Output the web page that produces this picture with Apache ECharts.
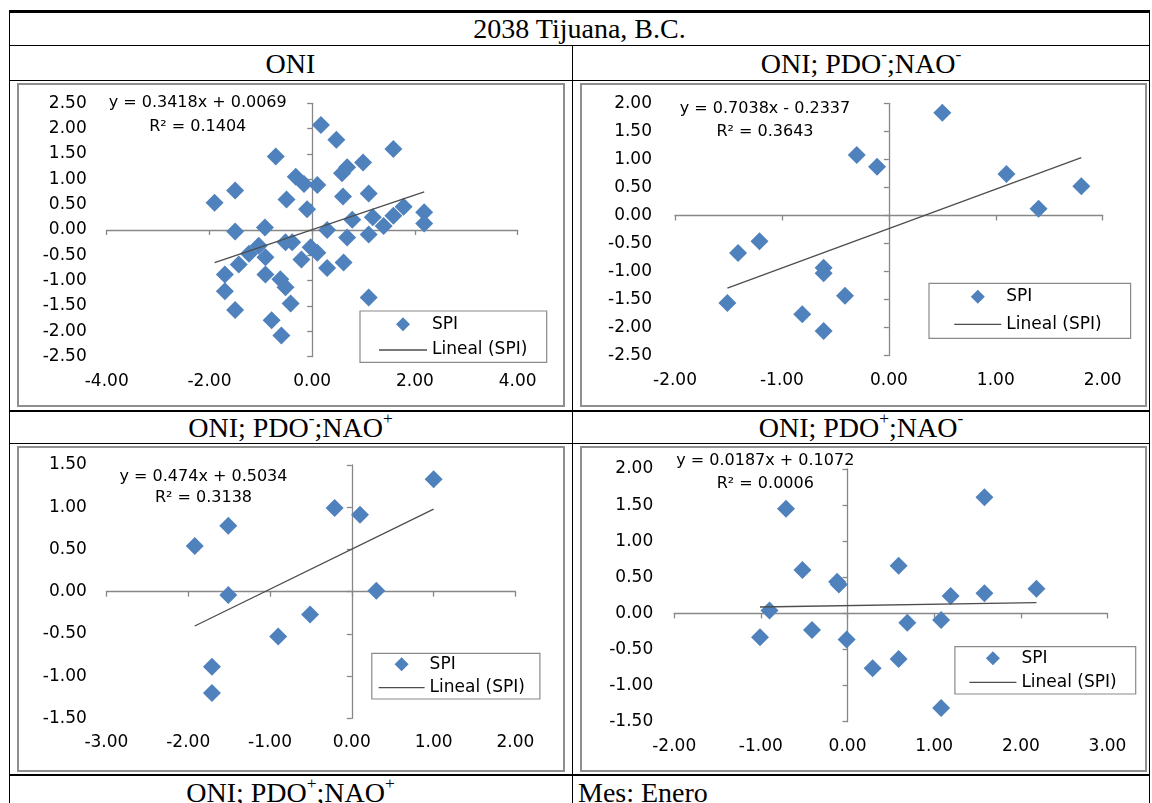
<!DOCTYPE html>
<html>
<head>
<meta charset="utf-8">
<script src="https://cdn.jsdelivr.net/npm/echarts@6/dist/echarts.min.js"></script>
<style>
  body { margin: 0; background: #fff; width: 1152px; height: 803px; overflow: hidden; position: relative; }
  .ln { position: absolute; background: #000; }
  .cell { position: absolute; font-family: "Liberation Serif", serif; font-size: 28px; color: #000;
          display: flex; align-items: center; justify-content: center; white-space: nowrap; }
  .cell sup { font-size: 62%; vertical-align: baseline; position: relative; top: -0.5em; line-height: 0; }
  .chart { position: absolute; }
  .frame { position: absolute; box-sizing: border-box; border: 2px solid #8f8f8f; pointer-events: none; }
</style>
</head>
<body>
<!-- tabla -->
<div class="ln" style="left:9px;top:10px;width:1141px;height:3px"></div>
<div class="ln" style="left:9px;top:45px;width:1141px;height:1px"></div>
<div class="ln" style="left:9px;top:80px;width:1141px;height:1px"></div>
<div class="ln" style="left:9px;top:410px;width:1141px;height:2px"></div>
<div class="ln" style="left:9px;top:443px;width:1141px;height:1px"></div>
<div class="ln" style="left:9px;top:774px;width:1141px;height:2px"></div>
<div class="ln" style="left:9px;top:10px;width:1px;height:793px"></div>
<div class="ln" style="left:1149px;top:10px;width:1px;height:793px"></div>
<div class="ln" style="left:572px;top:45px;width:1px;height:758px"></div>

<div class="cell" style="left:9px;top:13px;width:1141px;height:32px">2038 Tijuana, B.C.</div>
<div class="cell" style="left:9px;top:47px;width:563px;height:34px">ONI</div>
<div class="cell" style="left:573px;top:47px;width:576px;height:34px">ONI; PDO<sup>-</sup>;NAO<sup>-</sup></div>
<div class="cell" style="left:9px;top:412px;width:563px;height:32px">ONI; PDO<sup>-</sup>;NAO<sup>+</sup></div>
<div class="cell" style="left:573px;top:412px;width:576px;height:32px">ONI; PDO<sup>+</sup>;NAO<sup>-</sup></div>
<div class="cell" style="left:9px;top:777px;width:563px;height:31px">ONI; PDO<sup>+</sup>;NAO<sup>+</sup></div>
<div class="cell" style="left:578px;top:777px;width:300px;height:31px;justify-content:flex-start">Mes: Enero</div>

<div class="chart" id="c1" style="left:17px;top:82px;width:548px;height:326px"></div>
<div class="chart" id="c2" style="left:580px;top:82px;width:567px;height:326px"></div>
<div class="chart" id="c3" style="left:17px;top:446px;width:548px;height:326px"></div>
<div class="chart" id="c4" style="left:580px;top:446px;width:567px;height:326px"></div>
<div class="frame" style="left:17px;top:83px;width:548px;height:324px"></div>
<div class="frame" style="left:580px;top:83px;width:567px;height:324px"></div>
<div class="frame" style="left:17px;top:446px;width:548px;height:326px"></div>
<div class="frame" style="left:580px;top:446px;width:567px;height:326px"></div>

<script>
// datos SPI vs ONI (enero)
var oniX = [-1.90, -1.50, -0.71, -0.50, -0.32, -0.16, 0.10, -0.10, -1.50, -0.92, -1.04, -1.23, -0.91, -0.52, -0.39, -1.43, -1.70, -1.70, -1.50, -0.91, -0.62, -0.52, -0.42, -0.79, -0.60, -0.21, -0.03, 0.10, 0.17, 0.47, 1.58, 0.99, 0.68, 0.58, 0.60, 1.10, 1.78, 2.18, 2.18, 0.78, 1.18, 1.39, 1.58, 0.29, 0.68, 1.10, 0.29, 0.61, 1.10];
var oniY = [0.54, 0.78, 1.45, 0.60, 1.05, 0.91, 0.89, 0.41, -0.03, 0.05, -0.31, -0.47, -0.54, -0.24, -0.24, -0.68, -0.88, -1.21, -1.58, -0.88, -0.97, -1.13, -1.45, -1.78, -2.08, -0.58, -0.34, -0.45, 2.07, 1.78, 1.60, 1.33, 1.24, 1.12, 0.66, 0.72, 0.46, 0.35, 0.13, 0.20, 0.25, 0.08, 0.28, 0.00, -0.15, -0.09, -0.75, -0.64, -1.33];

var pnX = [-1.21, -1.41, -0.61, -0.61, -1.51, -0.41, -0.81, -0.61, -0.30, -0.11, 0.50, 1.10, 1.40, 1.80];
var pnY = [-0.46, -0.67, -0.93, -1.03, -1.56, -1.43, -1.76, -2.06, 1.08, 0.87, 1.83, 0.74, 0.12, 0.52];

var npX = [-1.92, -1.51, -1.51, -0.21, 0.10, 1.00, 0.30, -0.51, -0.90, -1.71, -1.71];
var npY = [0.54, 0.78, -0.04, 0.99, 0.91, 1.33, 0.01, -0.27, -0.53, -0.89, -1.20];

var ppX = [-0.71, -0.52, -0.12, -0.10, -0.90, -1.01, -0.41, -0.01, 0.29, 0.59, 0.59, 0.69, 1.08, 1.19, 1.58, 1.58, 2.18, 1.08];
var ppY = [1.45, 0.60, 0.44, 0.40, 0.04, -0.33, -0.23, -0.36, -0.76, -0.63, 0.66, -0.13, -0.09, 0.24, 0.28, 1.61, 0.34, -1.31];

// lineas de tendencia (Excel)
var slopes = [0.3418, 0.7038, 0.474, 0.0187];
var intercepts = [0.0069, -0.2337, 0.5034, 0.1072];
var r2 = ['0.1404', '0.3643', '0.3138', '0.0006'];

// ticks de los ejes
var xTicks = [[-4, -2, 0, 2, 4], [-2, -1, 0, 1, 2], [-3, -2, -1, 0, 1, 2], [-2, -1, 0, 1, 2, 3]];
var yTicks = [[-2.5, 2.5, 0.5], [-2.5, 2.0, 0.5], [-1.5, 1.5, 0.5], [-1.5, 2.0, 0.5]];

var seriesX = [oniX, pnX, npX, ppX];
var seriesY = [oniY, pnY, npY, ppY];

// posiciones de cada grafica
var layout = [
  { id: 'c1', grid: [89.7, 21.3, 411, 253.4], ylm: 20, eq: [180.7, 21, 44.7],
    lg: { left: 343, top: 229, pad: [4.8, 19.4, 3.8, 19], gap: 8.7, iw: 48, tg: 4 } },
  { id: 'c2', grid: [95, 21.3, 427.7, 252.4], ylm: 23, eq: [185, 27, 49.7],
    lg: { left: 349, top: 201.3, pad: [4.9, 29, 5.5, 25.3], gap: 10.6, iw: 47, tg: 7 } },
  { id: 'c3', grid: [89.4, 19, 409, 253.3], ylm: 19.6, eq: [186.5, 30.7, 52.3],
    lg: { left: 354.8, top: 207.3, pad: [2.5, 15, 2.8, 6.8], gap: 6.4, iw: 46, tg: 7 } },
  { id: 'c4', grid: [94.2, 23, 433.3, 252.7], ylm: 21, eq: [185.3, 15, 38.3],
    lg: { left: 374.9, top: 200.7, pad: [3.1, 19, 3.2, 14.5], gap: 7, iw: 47, tg: 6 } }
];

var FONT = '"DejaVu Sans", sans-serif';
var axisColor = '#878787';
var markColor = '#4f81bd';
var trendColor = '#4d4d4d';

function fmt(v) { return v.toFixed(2); }

// iconos de leyenda con caja de w x 14 para que no se deformen
function diamondIcon(w) {
  var c = w / 2;
  return 'path://M0,7L0.01,7ZM' + (c - 7) + ',7L' + c + ',0L' + (c + 7) + ',7L' + c + ',14ZM' + (w - 0.01) + ',7L' + w + ',7Z';
}
function lineIcon(w) {
  return 'path://M0,0L0.01,0ZM0,6.35L' + w + ',6.35L' + w + ',7.65L0,7.65ZM' + (w - 0.01) + ',14L' + w + ',14Z';
}

layout.forEach(function (L, i) {
  var chart = echarts.init(document.getElementById(L.id));
  var xs = seriesX[i], ys = seriesY[i];
  var pts = xs.map(function (x, k) { return [x, ys[k]]; });
  var x0 = Math.min.apply(null, xs), x1 = Math.max.apply(null, xs);
  var trend = [[x0, slopes[i] * x0 + intercepts[i]], [x1, slopes[i] * x1 + intercepts[i]]];
  var xt = xTicks[i], yt = yTicks[i];
  var xr = { type: 'value', min: xt[0], max: xt[xt.length - 1], interval: xt[1] - xt[0] };
  var yr = { type: 'value', min: yt[0], max: yt[1], interval: yt[2] };
  var b = intercepts[i];
  var eqText = 'y = ' + slopes[i] + 'x ' + (b < 0 ? '- ' : '+ ') + Math.abs(b);

  var option = {
    animation: false,
    grid: { left: L.grid[0], top: L.grid[1], width: L.grid[2], height: L.grid[3], containLabel: false, outerBoundsMode: 'none' },
    xAxis: [
      Object.assign({ position: 'bottom', axisLine: { show: false, onZero: false }, axisTick: { show: false },
        splitLine: { show: false },
        axisLabel: { formatter: fmt, color: '#000', fontSize: 17, fontFamily: FONT, margin: 16 } }, xr),
      Object.assign({ position: 'bottom', axisLine: { show: true, onZero: true, onZeroAxisIndex: 0, lineStyle: { color: axisColor, width: 1.3 } },
        axisTick: { show: true, length: 5, lineStyle: { color: axisColor, width: 1.3 } },
        splitLine: { show: false }, axisLabel: { show: false } }, xr)
    ],
    yAxis: [
      Object.assign({ position: 'left', axisLine: { show: false, onZero: false }, axisTick: { show: false },
        splitLine: { show: false },
        axisLabel: { formatter: fmt, color: '#000', fontSize: 17, fontFamily: FONT, margin: L.ylm } }, yr),
      Object.assign({ position: 'left', axisLine: { show: true, onZero: true, onZeroAxisIndex: 0, lineStyle: { color: axisColor, width: 1.3 } },
        axisTick: { show: true, length: 5, lineStyle: { color: axisColor, width: 1.3 } },
        splitLine: { show: false }, axisLabel: { show: false } }, yr)
    ],
    legend: {
      data: [
        { name: 'SPI', icon: diamondIcon(L.lg.iw), itemStyle: { color: markColor } },
        { name: 'Lineal (SPI)', icon: lineIcon(L.lg.iw), itemStyle: { color: trendColor } }
      ],
      orient: 'vertical', left: L.lg.left, top: L.lg.top, padding: L.lg.pad,
      itemGap: L.lg.gap, itemWidth: L.lg.iw, itemHeight: 14, itemTextGap: L.lg.tg,
      borderColor: '#8a8a8a', borderWidth: 1.2, borderRadius: 0,
      textStyle: { color: '#000', fontSize: 17, fontFamily: FONT },
      selectedMode: false
    },
    graphic: [
      { type: 'text', x: L.eq[0], y: L.eq[1], style: { text: eqText, fill: '#000', font: '16px ' + FONT, align: 'center', verticalAlign: 'middle' } },
      { type: 'text', x: L.eq[0], y: L.eq[2], style: { text: 'R² = ' + r2[i], fill: '#000', font: '16px ' + FONT, align: 'center', verticalAlign: 'middle' } }
    ],
    series: [
      { name: 'SPI', type: 'scatter', xAxisIndex: 0, yAxisIndex: 0, symbol: 'diamond', symbolSize: 18,
        itemStyle: { color: markColor, opacity: 1 }, data: pts, z: 3 },
      { name: 'Lineal (SPI)', type: 'line', xAxisIndex: 0, yAxisIndex: 0, symbol: 'none', showSymbol: false,
        lineStyle: { color: trendColor, width: 1.3 }, itemStyle: { color: trendColor }, data: trend, z: 4 }
    ]
  };
  chart.setOption(option);
});
</script>
</body>
</html>
